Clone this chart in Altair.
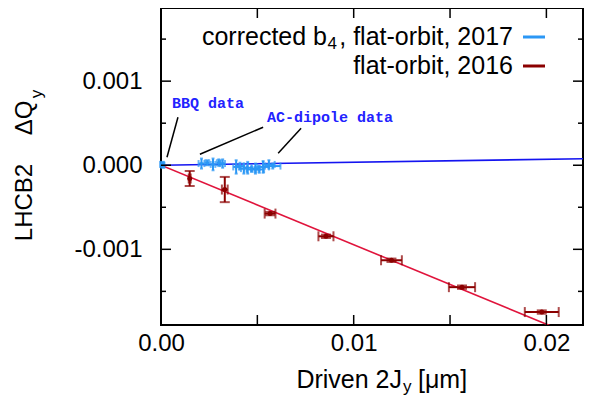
import altair as alt
import pandas as pd

# ---- data: flat-orbit 2016 (dark red) ----
red_x = [0.00149, 0.00331, 0.00566, 0.00856, 0.01196, 0.01562, 0.01976]
red_y = [-0.000158, -0.000289, -0.000575, -0.000845, -0.00113, -0.00145, -0.001746]
red_xerr = [0.00005, 0.00015, 0.00028, 0.00039, 0.00054, 0.00068, 0.00088]
red_yerr = [0.00009, 0.00015, 0.00002, 0.00002, 0.00002, 0.00002, 0.00002]

# ---- data: corrected b4, flat-orbit 2017 (light blue) ----
blue_x = [0.00005, 0.0001, 0.0021, 0.0024, 0.0027, 0.0030, 0.0032, 0.0039, 0.0041,
          0.0043, 0.0045, 0.0047, 0.0049, 0.0051, 0.0053, 0.0056, 0.0058]
blue_y = [0.00001, 0.0, 0.00002, 0.00003, 0.00001, 0.00003, 0.00002, -0.00002, -0.00001,
          -0.00004, -0.00003, -0.00005, -0.00004, -0.00005, -0.00002, 0.00001, -0.00001]
blue_xerr = [0.0001, 0.00008, 0.00015, 0.0001, 0.00012, 0.0001, 0.00012, 0.00015, 0.0002,
             0.00015, 0.0002, 0.00025, 0.0002, 0.00025, 0.0003, 0.0003, 0.0004]
blue_yerr = [0.00003, 0.00003, 0.00006, 0.00003, 0.00007, 0.00004, 0.00005, 0.00008, 0.00004,
             0.00006, 0.00007, 0.00003, 0.00006, 0.00004, 0.00007, 0.00005, 0.00003]

# ---- linear fits ----
fit_x = [0.0, 0.0219]
red_fit_y = [0.0, -0.00207]
blue_fit_y = [0.0, 0.000077]

# ---- axes ----
x_labels = [0.0, 0.01, 0.02]
y_labels = [-0.001, 0.0, 0.001]
x_ticks = [0.005, 0.01, 0.015, 0.02]
y_major = [-0.001, 0.0, 0.001]
y_minor = [-0.0015, -0.0005, 0.0005, 0.0015]

# ---- annotations ----
ann_text = ["BBQ data", "AC-dipole data"]
ann_x = [0.00057, 0.0055]
ann_y = [0.00074, 0.00057]
arrow_x1 = [0.00088, 0.0053, 0.00727]
arrow_y1 = [0.00057, 0.000452, 0.00044]
arrow_x2 = [0.00031, 0.00202, 0.00608]
arrow_y2 = [0.000095, 0.000131, 0.000143]

RED = "#8b0000"
BLUE = "#2b97f5"
FONT = "Liberation Sans"

XS = alt.Scale(domain=[0, 0.0219], nice=False, zero=False)
YS = alt.Scale(domain=[-0.0019, 0.00187], nice=False, zero=False)
XA = alt.Axis(values=x_labels, format=".2f", ticks=False, domain=False, grid=False,
              labelFontSize=24, labelPadding=6, labelFlush=False, labelColor="black",
              labelFont=FONT, title=None)
YA = alt.Axis(values=y_labels, format=".3f", labelExpr="replace(datum.label, '\u2212', '-')",
              ticks=False, domain=False, grid=False, labelFontSize=24, labelPadding=19,
              labelColor="black", labelFont=FONT, title=None)


def X(f):
    return alt.X(f, type="quantitative", scale=XS, axis=XA, title=None)


def Y(f):
    return alt.Y(f, type="quantitative", scale=YS, axis=YA, title=None)


def series(xs, ys, xe, ye):
    return pd.DataFrame({
        "x": xs, "y": ys,
        "xlo": [a - b for a, b in zip(xs, xe)], "xhi": [a + b for a, b in zip(xs, xe)],
        "ylo": [a - b for a, b in zip(ys, ye)], "yhi": [a + b for a, b in zip(ys, ye)],
    })


red = series(red_x, red_y, red_xerr, red_yerr)
blue = series(blue_x, blue_y, blue_xerr, blue_yerr)


def errlayers(df, color, xcap, ycap, sw, psize):
    xcaps = pd.DataFrame({"x": list(df.xlo) + list(df.xhi), "y": list(df.y) * 2})
    ycaps = pd.DataFrame({"x": list(df.x) * 2, "y": list(df.ylo) + list(df.yhi)})
    return [
        alt.Chart(df).mark_rule(color=color, strokeWidth=sw).encode(x=X("xlo"), x2="xhi", y=Y("y")),
        alt.Chart(df).mark_rule(color=color, strokeWidth=sw).encode(x=X("x"), y=Y("ylo"), y2="yhi"),
        alt.Chart(xcaps).mark_tick(color=color, orient="vertical", size=xcap, thickness=sw).encode(x=X("x"), y=Y("y")),
        alt.Chart(ycaps).mark_tick(color=color, orient="horizontal", size=ycap, thickness=sw).encode(x=X("x"), y=Y("y")),
        alt.Chart(df).mark_circle(color=color, size=psize, opacity=1).encode(x=X("x"), y=Y("y")),
    ]


fit_df = pd.DataFrame({"x": fit_x, "r": red_fit_y, "b": blue_fit_y})
blue_fit = alt.Chart(fit_df).mark_line(color="#1414f0", strokeWidth=1.6, clip=True).encode(x=X("x"), y=Y("b"))
red_fit = alt.Chart(fit_df).mark_line(color="#e0143c", strokeWidth=1.6, clip=True).encode(x=X("x"), y=Y("r"))

# inward ticks on all four sides
xt = pd.DataFrame({"v": x_ticks})
ymj = pd.DataFrame({"v": y_major})
ymn = pd.DataFrame({"v": y_minor})
H, W = 317, 422
tk = dict(color="black", strokeWidth=1.5)
ticks = [
    alt.Chart(xt).mark_rule(**tk).encode(x=X("v"), y=alt.value(H), y2=alt.value(H - 10)),
    alt.Chart(xt).mark_rule(**tk).encode(x=X("v"), y=alt.value(0), y2=alt.value(10)),
    alt.Chart(ymj).mark_rule(**tk).encode(y=Y("v"), x=alt.value(0), x2=alt.value(10)),
    alt.Chart(ymj).mark_rule(**tk).encode(y=Y("v"), x=alt.value(W), x2=alt.value(W - 10)),
    alt.Chart(ymn).mark_rule(**tk).encode(y=Y("v"), x=alt.value(0), x2=alt.value(5)),
    alt.Chart(ymn).mark_rule(**tk).encode(y=Y("v"), x=alt.value(W), x2=alt.value(W - 5)),
]

# annotations
ann = pd.DataFrame({"t": ann_text, "x": ann_x, "y": ann_y})
ann_t = alt.Chart(ann).mark_text(align="left", baseline="middle", font="Liberation Mono",
                                 fontWeight="bold", fontSize=15, color="#2222ff").encode(
    x=X("x"), y=Y("y"), text="t:N")
arr = pd.DataFrame({"x1": arrow_x1, "y1": arrow_y1, "x2": arrow_x2, "y2": arrow_y2})
ann_l = alt.Chart(arr).mark_rule(color="black", strokeWidth=1.5).encode(
    x=X("x1"), y=Y("y1"), x2="x2", y2="y2")


# free text (titles, legend) positioned relative to the plot area
def txt(s, px, py, size=25, align="center", baseline="middle", angle=0, color="black"):
    kw = dict(align=align, baseline=baseline, fontSize=size, font=FONT, color=color)
    if angle:
        kw["angle"] = angle
    return alt.Chart(pd.DataFrame({"t": [s]})).mark_text(**kw).encode(
        x=alt.value(px), y=alt.value(py), text="t:N")


texts = [
    txt("LHCB2", -136, 194.5, size=24, angle=270),
    txt("\u0394Q", -136, 110, size=24, angle=270),
    txt("y", -124, 86, size=17, angle=270),
    txt("Driven 2J", 241, 380, align="right", baseline="alphabetic"),
    txt("y", 242, 384, size=17, align="left", baseline="alphabetic"),
    txt("[\u03bcm]", 257, 380, align="left", baseline="alphabetic"),
    txt(", flat-orbit, 2017", 352, 29, align="right"),
    txt("4", 176, 36, size=17, align="right"),
    txt("corrected b", 166, 29, align="right"),
    txt("flat-orbit, 2016", 352, 58, align="right"),
]
leg_df = pd.DataFrame({"a": [0]})
legend_lines = [
    alt.Chart(leg_df).mark_rule(color=BLUE, strokeWidth=3).encode(x=alt.value(362), x2=alt.value(384), y=alt.value(29)),
    alt.Chart(leg_df).mark_rule(color=RED, strokeWidth=3).encode(x=alt.value(362), x2=alt.value(384), y=alt.value(58)),
]

layers = ([blue_fit, red_fit] + errlayers(red, RED, 10, 10, 2, 25) + errlayers(blue, BLUE, 7, 3, 2, 10)
          + ticks + [ann_l, ann_t] + texts + legend_lines)

chart = alt.layer(*layers).properties(
    width=W, height=H,
    autosize=alt.AutoSizeParams(type="none"),
    padding={"left": 153, "top": 0, "right": 1, "bottom": 70},
    background="white",
).configure_view(stroke="black", strokeWidth=2).resolve_scale(x="shared", y="shared")

chart.save("out.html", embed_options={"renderer": "svg", "actions": False})
